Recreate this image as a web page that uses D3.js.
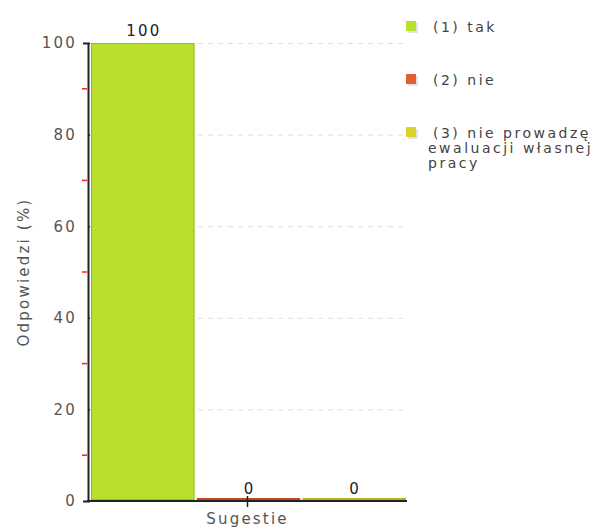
<!DOCTYPE html>
<html>
<head>
<meta charset="utf-8">
<script src="https://cdn.jsdelivr.net/npm/d3@7"></script>
<style>
	body { margin: 0; background: #fff; }
	svg text { font-family: "DejaVu Sans", Verdana, sans-serif; letter-spacing: 2.2px; }
</style>
</head>
<body>
<div id="chart"></div>
<script>
// chart data
var category = 'Sugestie';
var seriesNames = ['(1) tak', '(2) nie', '(3) nie prowadzę ewaluacji własnej pracy'];
var seriesLines = [['(1) tak'], ['(2) nie'], ['(3) nie prowadzę', 'ewaluacji własnej', 'pracy']];
var seriesValues = [100, 0, 0];
var seriesColors = ['#b8df2e', '#e0602e', '#d8d22c'];
var seriesStroke = ['#98bc1c', '#c24a20', '#b8b21c'];
var yTicks = [0, 20, 40, 60, 80, 100];
var yMinorTicks = [10, 30, 50, 70, 90];

initChart();

// bar chart init
function initChart() {
	var width = 608;
	var height = 532;
	var fontSize = 15;
	var plot = { left: 88, right: 407, top: 43, bottom: 501 };

	var svg = d3.select('#chart')
		.append('svg')
		.attr('width', width)
		.attr('height', height);

	var yScale = d3.scaleLinear()
		.domain([0, 100])
		.range([plot.bottom, plot.top]);

	var xScale = d3.scaleBand()
		.domain([category])
		.range([plot.left, plot.right]);

	var barScale = d3.scaleBand()
		.domain(seriesNames)
		.range([plot.left + 3, plot.right - 1])
		.paddingInner(0.02);

	// grid lines
	svg.append('g')
		.selectAll('line')
		.data(yTicks.filter(function(d) { return d > 0; }))
		.enter()
		.append('line')
		.attr('x1', plot.left)
		.attr('x2', plot.right)
		.attr('y1', function(d) { return yScale(d) + 0.5; })
		.attr('y2', function(d) { return yScale(d) + 0.5; })
		.attr('stroke', '#dddddd')
		.attr('stroke-dasharray', '5,5');

	// bars
	svg.append('g')
		.selectAll('rect')
		.data(seriesNames)
		.enter()
		.append('rect')
		.attr('x', function(d) { return barScale(d) + 0.5; })
		.attr('y', function(d, i) {
			return Math.min(yScale(seriesValues[i]), plot.bottom - 3) + 0.5;
		})
		.attr('width', barScale.bandwidth() - 1)
		.attr('height', function(d, i) {
			return Math.max(plot.bottom - yScale(seriesValues[i]) - 2, 1);
		})
		.attr('fill', function(d, i) { return seriesColors[i]; })
		.attr('stroke', function(d, i) { return seriesStroke[i]; })
		.attr('stroke-width', 1);

	// value labels
	svg.append('g')
		.selectAll('text')
		.data(seriesNames)
		.enter()
		.append('text')
		.attr('x', function(d) { return barScale(d) + barScale.bandwidth() / 2 + 1; })
		.attr('y', function(d, i) { return Math.min(yScale(seriesValues[i]) - 7, plot.bottom - 4); })
		.attr('text-anchor', 'middle')
		.attr('font-size', fontSize)
		.attr('fill', '#222')
		.text(function(d, i) { return seriesValues[i]; });

	// y axis
	var yAxis = svg.append('g')
		.attr('transform', 'translate(' + plot.left + ',0)')
		.call(d3.axisLeft(yScale).tickValues(yTicks).tickSize(5).tickPadding(6));

	yAxis.select('.domain').attr('stroke', '#222').attr('stroke-width', 2);
	yAxis.selectAll('.tick line').attr('stroke', '#222').attr('stroke-width', 1.5).attr('x2', 2);
	yAxis.selectAll('.tick text')
		.attr('font-size', fontSize)
		.attr('fill', '#555')
		.style('font-family', '"DejaVu Sans", Verdana, sans-serif');

	svg.append('g')
		.selectAll('line')
		.data(yMinorTicks)
		.enter()
		.append('line')
		.attr('x1', plot.left - 6)
		.attr('x2', plot.left - 1)
		.attr('y1', function(d) { return yScale(d); })
		.attr('y2', function(d) { return yScale(d); })
		.attr('stroke', '#ff2020')
		.attr('stroke-width', 1.5);

	// x axis
	var xAxis = svg.append('g')
		.attr('transform', 'translate(0,' + plot.bottom + ')')
		.call(d3.axisBottom(xScale).tickSize(6).tickPadding(6));

	xAxis.select('.domain').attr('stroke', '#222').attr('stroke-width', 2).attr('d', 'M' + (plot.left - 1) + ',0H' + plot.right);
	xAxis.selectAll('.tick line').attr('stroke', '#222').attr('stroke-width', 1.5).attr('y1', -5);
	xAxis.selectAll('.tick text')
		.attr('font-size', fontSize)
		.attr('fill', '#555')
		.style('font-family', '"DejaVu Sans", Verdana, sans-serif');

	// y axis title
	svg.append('text')
		.attr('transform', 'translate(29,' + ((plot.top + plot.bottom) / 2) + ') rotate(-90)')
		.attr('text-anchor', 'middle')
		.attr('font-size', fontSize)
		.attr('fill', '#555')
		.text('Odpowiedzi (%)');

	// legend
	var legend = svg.append('g')
		.selectAll('g')
		.data(seriesNames)
		.enter()
		.append('g')
		.attr('transform', function(d, i) { return 'translate(406,' + (21 + i * 53) + ')'; });

	legend.append('rect')
		.attr('x', 2)
		.attr('y', 2)
		.attr('width', 10)
		.attr('height', 10)
		.attr('fill', '#e4e4e4');

	legend.append('rect')
		.attr('width', 10)
		.attr('height', 10)
		.attr('fill', function(d, i) { return seriesColors[i]; });

	legend.append('text')
		.attr('y', 11)
		.attr('font-size', 14)
		.attr('fill', '#444')
		.style('letter-spacing', '2.5px')
		.selectAll('tspan')
		.data(function(d, i) { return seriesLines[i]; })
		.enter()
		.append('tspan')
		.attr('x', function(d, i) { return i === 0 ? 27 : 22; })
		.attr('dy', function(d, i) { return i === 0 ? 0 : 15; })
		.text(function(d) { return d; });
}
</script>
</body>
</html>
